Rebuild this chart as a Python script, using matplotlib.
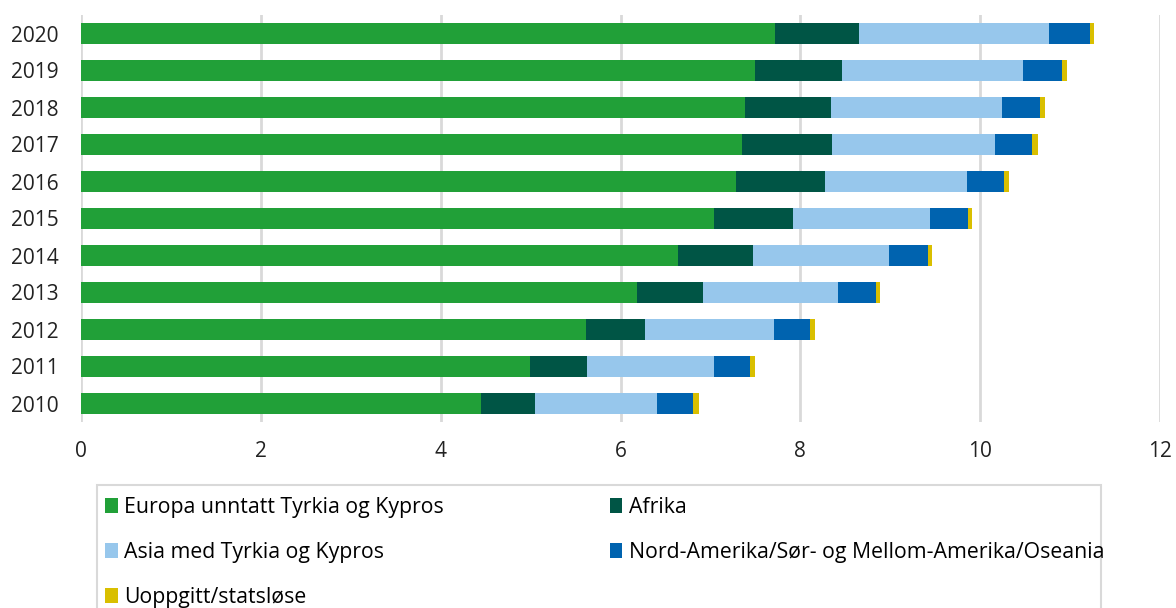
import matplotlib
matplotlib.use("Agg")
import matplotlib.pyplot as plt
from matplotlib.patches import Rectangle, Patch

years = ["2010", "2011", "2012", "2013", "2014", "2015", "2016", "2017", "2018", "2019", "2020"]
europa = [4.45, 4.99, 5.62, 6.18, 6.64, 7.04, 7.29, 7.35, 7.39, 7.50, 7.72]
afrika = [0.60, 0.64, 0.65, 0.74, 0.83, 0.88, 0.98, 1.00, 0.955, 0.96, 0.93]
asia = [1.36, 1.41, 1.44, 1.50, 1.52, 1.52, 1.58, 1.815, 1.90, 2.02, 2.12]
amerika = [0.40, 0.40, 0.40, 0.42, 0.43, 0.43, 0.42, 0.41, 0.42, 0.43, 0.45]
uoppgitt = [0.06, 0.06, 0.055, 0.05, 0.04, 0.04, 0.05, 0.07, 0.055, 0.06, 0.05]

series = [
    ("Europa unntatt Tyrkia og Kypros", europa, "#21A038"),
    ("Afrika", afrika, "#005545"),
    ("Asia med Tyrkia og Kypros", asia, "#97C7EC"),
    ("Nord-Amerika/Sør- og Mellom-Amerika/Oseania", amerika, "#0063AF"),
    ("Uoppgitt/statsløse", uoppgitt, "#D9BF00"),
]
xticks = [0, 2, 4, 6, 8, 10, 12]

plt.rcParams['font.family'] = ['Open Sans', 'DejaVu Sans']
W, H = 1176, 608
fig = plt.figure(figsize=(W / 100, H / 100), dpi=100)
ax = fig.add_axes([81 / W, 1 - 422 / H, (1160 - 81) / W, (422 - 15) / H])

ypos = list(range(len(years)))
left = [0.0] * len(years)
for name, vals, col in series:
    ax.barh(ypos, vals, left=left, height=0.57, color=col, label=name, zorder=3)
    left = [l + v for l, v in zip(left, vals)]

ax.set_xlim(0, 12)
ax.set_ylim(-0.5, 10.5)
ax.set_xticks(xticks)
ax.set_xticklabels([str(t) for t in xticks])
ax.set_yticks(ypos)
ax.set_yticklabels(years)
ax.tick_params(axis='both', length=0, labelsize=15, colors="#222222")
ax.tick_params(axis='y', pad=16)
ax.tick_params(axis='x', pad=14)
for s in ax.spines.values():
    s.set_visible(False)
ax.grid(axis='x', color="#D9D9D9", linewidth=2, zorder=0)
ax.set_axisbelow(True)

# legend frame
fig.patches.append(Rectangle((97 / W, -0.05), (1101 - 97) / W, (1 - 485 / H) + 0.05,
                             transform=fig.transFigure, fill=False,
                             edgecolor="#D9D9D9", linewidth=1.5))
order = [series[0], series[2], series[4], series[1], series[3]]
hl = [Patch(facecolor=c, edgecolor='none') for _, _, c in order]
fig.legend(hl, [n for n, _, _ in order], ncol=2, frameon=False,
           loc='upper left', bbox_to_anchor=(90 / W, 1 - 482 / H),
           fontsize=15.3, handlelength=0.6, handleheight=0.7, handletextpad=0.3,
           labelspacing=1.14, columnspacing=7.8, borderpad=0.2)

fig.savefig("out.png", dpi=100)
